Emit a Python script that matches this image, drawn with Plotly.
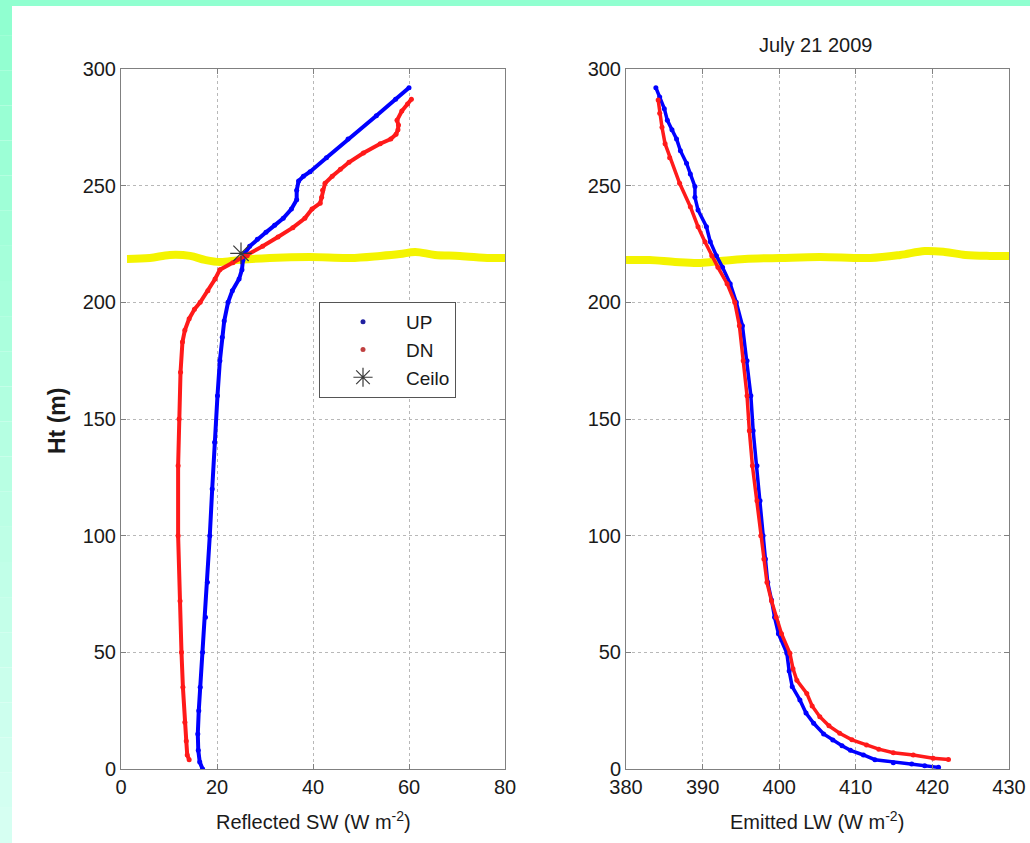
import plotly.graph_objects as go

# ---- Reflected shortwave profiles (left panel) ----
sw_up_ht = [0, 3, 8, 15, 25, 35, 50, 65, 80, 100, 120, 140, 160, 175, 185, 192, 200, 205, 210,
            214, 218, 221, 224, 227, 230, 233, 236, 240, 244, 248, 252, 254, 256, 262, 270, 280, 287, 292]
sw_up = [17.0, 16.4, 16.1, 16.0, 16.2, 16.5, 17.0, 17.6, 18.0, 18.5, 19.0, 19.5, 20.1, 20.6, 21.1,
         21.5, 22.3, 23.2, 24.6, 25.2, 25.4, 25.8, 26.8, 28.4, 30.2, 32.0, 33.8, 35.5, 36.6, 36.6,
         37.0, 38.0, 39.4, 42.8, 47.3, 53.2, 57.2, 60.0]

sw_dn_ht = [4, 6, 12, 20, 35, 50, 72, 100, 130, 150, 170, 183, 188, 193, 197, 200, 205, 210, 214,
            217, 220, 224, 228, 232, 236, 240, 242.5, 245, 248, 251, 254, 257, 260, 264, 268, 270,
            272, 274, 276, 278, 282, 285, 287]
sw_dn = [14.2, 13.8, 13.6, 13.3, 12.9, 12.6, 12.3, 11.9, 11.9, 12.1, 12.4, 12.8, 13.3, 14.2, 15.3,
         16.5, 18.1, 19.6, 20.6, 23.3, 26.3, 29.5, 32.7, 35.8, 38.3, 39.8, 41.5, 41.8, 42.0, 42.5,
         44.0, 45.7, 47.5, 50.5, 54.0, 56.2, 57.3, 57.7, 57.8, 57.5, 58.5, 59.7, 60.5]

# Ceilometer cloud base
ceilo_sw = [25.0]
ceilo_ht = [221.0]

# ---- Emitted longwave profiles (right panel) ----
lw_up_ht = [0.7, 1.4, 2.1, 2.7, 4, 6, 8, 10, 12.4, 15, 19.6, 24, 29.6, 35.3, 42, 49.6, 58, 65,
            72.4, 80, 90, 100, 115, 130, 145, 160, 175, 190, 200, 208, 215, 220, 226, 232.4,
            239.6, 245, 249.6, 255, 259.6, 265, 270, 274, 278, 283, 288, 292]
lw_up = [420.8, 419.0, 417.3, 414.9, 412.5, 411.0, 409.3, 408.2, 407.0, 405.8, 404.5, 403.5,
         402.7, 401.7, 401.3, 401.0, 399.9, 399.4, 399.0, 398.5, 398.2, 397.9, 397.5, 397.1,
         396.6, 396.3, 395.8, 395.2, 394.4, 393.6, 392.6, 391.8, 391.0, 390.5, 389.4, 389.0,
         389.0, 388.4, 387.9, 387.1, 386.6, 386.0, 385.4, 385.0, 384.4, 383.9]

lw_dn_ht = [4.1, 4.6, 6, 7, 8.5, 10.3, 12.5, 15.3, 18.5, 22.4, 27, 32.4, 38, 43, 49.6, 58, 65,
            72, 80, 90, 100, 115, 130, 145, 160, 175, 190, 200, 208, 215, 220, 226, 232.4, 241,
            251, 262, 268, 275, 281, 286.7]
lw_dn = [422.1, 420.1, 417.5, 414.9, 413.0, 411.4, 409.5, 407.9, 406.5, 405.3, 404.3, 403.6,
         402.3, 401.8, 401.4, 400.3, 399.6, 399.0, 398.4, 398.0, 397.6, 397.1, 396.5, 396.1,
         395.8, 395.3, 394.8, 394.2, 393.2, 392.0, 391.2, 390.3, 389.4, 388.4, 387.0, 385.7,
         385.1, 384.7, 384.4, 384.2]

# ---- Hand-drawn cloud-base marker lines ----
cb_left_x = [1.25, 6, 10.2, 14.4, 17.5, 20.6, 24.8, 31, 39.4, 47.7, 54, 58.1, 61.3, 65.4, 70.6, 76.9, 80.6]
cb_left_y = [218.6, 219, 220.3, 219.9, 218.2, 217.3, 218.2, 219, 219.4, 219, 219.9, 220.7, 221.6,
             220.3, 219.9, 219, 219]
cb_right_x = [380, 383.1, 386.4, 389.7, 392.3, 395.5, 400.1, 405.3, 411.9, 415.8, 419, 421.6,
              424.3, 427.5, 430.4]
cb_right_y = [218.1, 218.1, 217.3, 216.9, 217.7, 218.6, 219, 219.4, 219, 220.3, 222, 221.6,
              220.3, 219.9, 219.9]

sw_ticks = [0, 20, 40, 60, 80]
lw_ticks = [380, 390, 400, 410, 420, 430]
ht_ticks = [0, 50, 100, 150, 200, 250, 300]

W, H = 1030, 843
FONT = "Arial, Liberation Sans, sans-serif"
TXT = "#1a1a1a"
BLUE = "#0000ff"
RED = "#ff1a1a"
YEL = "#f4f400"


def px(x):
    return x / W


def py(y):
    return 1 - y / H


fig = go.Figure()

# cloud-base lines (underneath the profiles)
fig.add_trace(go.Scatter(x=cb_left_x, y=cb_left_y, mode="lines", line=dict(color=YEL, width=8, shape="spline"),
                         xaxis="x", yaxis="y", showlegend=False, hoverinfo="skip"))
fig.add_trace(go.Scatter(x=cb_right_x, y=cb_right_y, mode="lines", line=dict(color=YEL, width=8, shape="spline"),
                         xaxis="x2", yaxis="y2", showlegend=False, hoverinfo="skip"))

prof = dict(mode="lines+markers", showlegend=False)
fig.add_trace(go.Scatter(x=sw_up, y=sw_up_ht, line=dict(color=BLUE, width=4), marker=dict(color=BLUE, size=5),
                         xaxis="x", yaxis="y", legendgroup="up", **prof))
fig.add_trace(go.Scatter(x=sw_dn, y=sw_dn_ht, line=dict(color=RED, width=4), marker=dict(color=RED, size=5),
                         xaxis="x", yaxis="y", legendgroup="dn", **prof))
fig.add_trace(go.Scatter(x=lw_up, y=lw_up_ht, line=dict(color=BLUE, width=3.5), marker=dict(color=BLUE, size=5),
                         xaxis="x2", yaxis="y2", legendgroup="up", **prof))
fig.add_trace(go.Scatter(x=lw_dn, y=lw_dn_ht, line=dict(color=RED, width=3.5), marker=dict(color=RED, size=5),
                         xaxis="x2", yaxis="y2", legendgroup="dn", **prof))
fig.add_trace(go.Scatter(x=ceilo_sw, y=ceilo_ht, mode="markers",
                         marker=dict(symbol="asterisk-open", size=18, color="#3a3a3a", line=dict(color="#3a3a3a", width=1.2)),
                         xaxis="x", yaxis="y", showlegend=False, legendgroup="ceilo"))

# legend entries
fig.add_trace(go.Scatter(x=[None], y=[None], mode="markers", name="UP", legendgroup="up",
                         marker=dict(color="#2020a0", size=5), xaxis="x", yaxis="y"))
fig.add_trace(go.Scatter(x=[None], y=[None], mode="markers", name="DN", legendgroup="dn",
                         marker=dict(color="#c04040", size=5), xaxis="x", yaxis="y"))
fig.add_trace(go.Scatter(x=[None], y=[None], mode="markers", name="Ceilo", legendgroup="ceilo",
                         marker=dict(symbol="asterisk-open", size=16, color="#3a3a3a",
                                     line=dict(color="#3a3a3a", width=1.2)), xaxis="x", yaxis="y"))

axis_common = dict(
    showline=True, linecolor="#808080", linewidth=1, mirror="allticks",
    ticks="inside", ticklen=5, tickcolor="#808080",
    showgrid=True, gridcolor="#b8b8b8", griddash="dot", gridwidth=1,
    zeroline=False, tickfont=dict(family=FONT, size=20, color=TXT),
    fixedrange=True, automargin=False,
)

y_dom = [py(769), py(69)]
fig.update_layout(
    width=W, height=H,
    margin=dict(l=0, r=0, t=0, b=0, autoexpand=False),
    paper_bgcolor="white", plot_bgcolor="white",
    xaxis=dict(domain=[px(121), px(505)], range=[0, 80], tickvals=sw_ticks, anchor="y", **axis_common),
    yaxis=dict(domain=y_dom, range=[0, 300], tickvals=ht_ticks, anchor="x", **axis_common),
    xaxis2=dict(domain=[px(626), px(1009)], range=[380, 430], tickvals=lw_ticks, anchor="y2", **axis_common),
    yaxis2=dict(domain=y_dom, range=[0, 300], tickvals=ht_ticks, anchor="x2", **axis_common),
    showlegend=True,
    legend=dict(x=px(319), y=py(302), xanchor="left", yanchor="top",
                bgcolor="white", bordercolor="#555555", borderwidth=1,
                font=dict(family=FONT, size=19, color=TXT),
                traceorder="grouped", tracegroupgap=0, itemwidth=76, itemsizing="trace"),
    font=dict(family=FONT, color=TXT),
)

# axis titles and panel title
ann = dict(xref="paper", yref="paper", showarrow=False, xanchor="center", yanchor="middle")
fig.add_annotation(x=px(313), y=py(820), text="Reflected SW (W m<sup>-2</sup>)",
                   font=dict(size=20, family=FONT, color=TXT), **ann)
fig.add_annotation(x=px(817), y=py(820), text="Emitted LW (W m<sup>-2</sup>)",
                   font=dict(size=20, family=FONT, color=TXT), **ann)
fig.add_annotation(x=px(57), y=py(421), textangle=-90, text="<b>Ht (m)</b>",
                   font=dict(size=23, family=FONT, color=TXT), **ann)
fig.add_annotation(x=px(815), y=py(45), text="July 21 2009",
                   font=dict(size=20, family=FONT, color=TXT), **ann)

# mint frame: solid top strip, left strip fading downward
shapes = [dict(type="rect", xref="paper", yref="paper", x0=0, x1=1, y0=py(6), y1=1,
               fillcolor="#90ffd0", line=dict(width=0), layer="below")]
n = 24
c0 = (144, 255, 208)
c1 = (214, 255, 242)
for i in range(n):
    t = i / (n - 1)
    c = tuple(round(a + (b - a) * t) for a, b in zip(c0, c1))
    shapes.append(dict(type="rect", xref="paper", yref="paper", x0=0, x1=px(12),
                       y0=1 - (i + 1) / n, y1=1 - i / n,
                       fillcolor="rgb(%d,%d,%d)" % c, line=dict(width=0), layer="below"))
fig.update_layout(shapes=shapes)

fig.write_html("out.html")
